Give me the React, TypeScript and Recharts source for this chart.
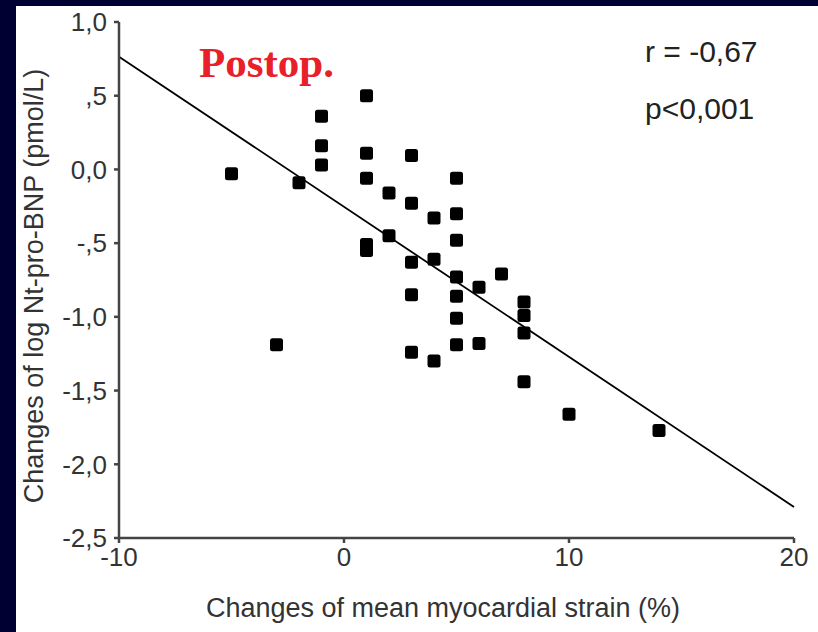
import { ScatterChart, Scatter, XAxis, YAxis, ReferenceLine } from 'recharts';

// change of mean myocardial strain (%) / change of log Nt-pro-BNP, one entry per patient
const strainChange = [
  -5, -3, -2, -1, -1, -1,
  1, 1, 1, 1, 1,
  2, 2,
  3, 3, 3, 3, 3,
  4, 4, 4,
  5, 5, 5, 5, 5, 5, 5,
  6, 6, 7,
  8, 8, 8, 8,
  10, 14,
];
const bnpChange = [
  -0.03, -1.19, -0.09, 0.36, 0.16, 0.03,
  0.5, 0.11, -0.06, -0.51, -0.55,
  -0.16, -0.45,
  0.095, -0.23, -0.63, -0.85, -1.24,
  -0.33, -0.61, -1.3,
  -0.06, -0.3, -0.48, -0.73, -0.86, -1.01, -1.19,
  -0.8, -1.18, -0.71,
  -0.9, -0.99, -1.11, -1.44,
  -1.66, -1.77,
];

// fitted regression line end points
const fitX = [-10, 20];
const fitY = [0.765, -2.29];

const xTicks = [-10, 0, 10, 20];
const yTicks = [1, 0.5, 0, -0.5, -1, -1.5, -2, -2.5];
const yTickLabels = ['1,0', ',5', '0,0', '-,5', '-1,0', '-1,5', '-2,0', '-2,5'];

const points = strainChange.map((x, i) => ({ x, y: bnpChange[i] }));

const NAVY = '#000033';
const AXIS = '#444444';
const TEXT = '#333333';
const SANS = '"Liberation Sans", Arial, sans-serif';

const SquareDot = (props: any) => {
  const { cx, cy } = props;
  if (cx == null || cy == null) return null;
  return <rect x={cx - 6.5} y={cy - 6.5} width={13} height={13} rx={2.5} fill="#000" />;
};

const App = () => {
  return (
    <div style={{ position: 'absolute', left: 0, top: 0, width: 818, height: 632, background: NAVY }}>
      <div style={{ position: 'absolute', left: 16, top: 6, width: 802, height: 626, background: '#fff' }} />
      <div style={{ position: 'absolute', left: 0, top: 0 }}>
        <ScatterChart width={818} height={632} margin={{ top: 22, right: 24, bottom: 0, left: 0 }}>
          <XAxis
            type="number"
            dataKey="x"
            domain={[-10, 20]}
            ticks={xTicks}
            height={94}
            tickSize={5}
            tickMargin={5}
            stroke={AXIS}
            strokeWidth={2.5}
            tick={{ fill: TEXT, fontSize: 26, fontFamily: SANS }}
          />
          <YAxis
            type="number"
            dataKey="y"
            domain={[-2.5, 1]}
            ticks={yTicks}
            width={119}
            tickSize={5}
            tickMargin={7}
            stroke={AXIS}
            strokeWidth={2.5}
            tickFormatter={(v: number) => yTickLabels[yTicks.indexOf(v)] ?? String(v)}
            tick={{ fill: TEXT, fontSize: 26, fontFamily: SANS }}
          />
          <ReferenceLine
            segment={[
              { x: fitX[0], y: fitY[0] },
              { x: fitX[1], y: fitY[1] },
            ]}
            stroke="#000"
            strokeWidth={1.8}
          />
          <Scatter data={points} fill="#000" shape={SquareDot} isAnimationActive={false} />
        </ScatterChart>
      </div>
      <svg
        width={818}
        height={632}
        style={{ position: 'absolute', left: 0, top: 0, pointerEvents: 'none' }}
      >
        <text
          x={199}
          y={77}
          fill="#e8202a"
          fontSize={43}
          fontWeight="bold"
          fontFamily='"Liberation Serif", "Times New Roman", serif'
        >
          Postop.
        </text>
        <text x={645} y={62} fill="#222" fontSize={30} fontFamily={SANS}>
          r = -0,67
        </text>
        <text x={645} y={119} fill="#222" fontSize={30} fontFamily={SANS}>
          p&lt;0,001
        </text>
        <text x={443} y={617} fill={TEXT} fontSize={27} fontFamily={SANS} textAnchor="middle">
          Changes of mean myocardial strain (%)
        </text>
        <text
          transform="translate(43, 286) rotate(-90)"
          fill={TEXT}
          fontSize={27}
          fontFamily={SANS}
          textAnchor="middle"
        >
          Changes of log Nt-pro-BNP (pmol/L)
        </text>
      </svg>
    </div>
  );
};

export default App;
